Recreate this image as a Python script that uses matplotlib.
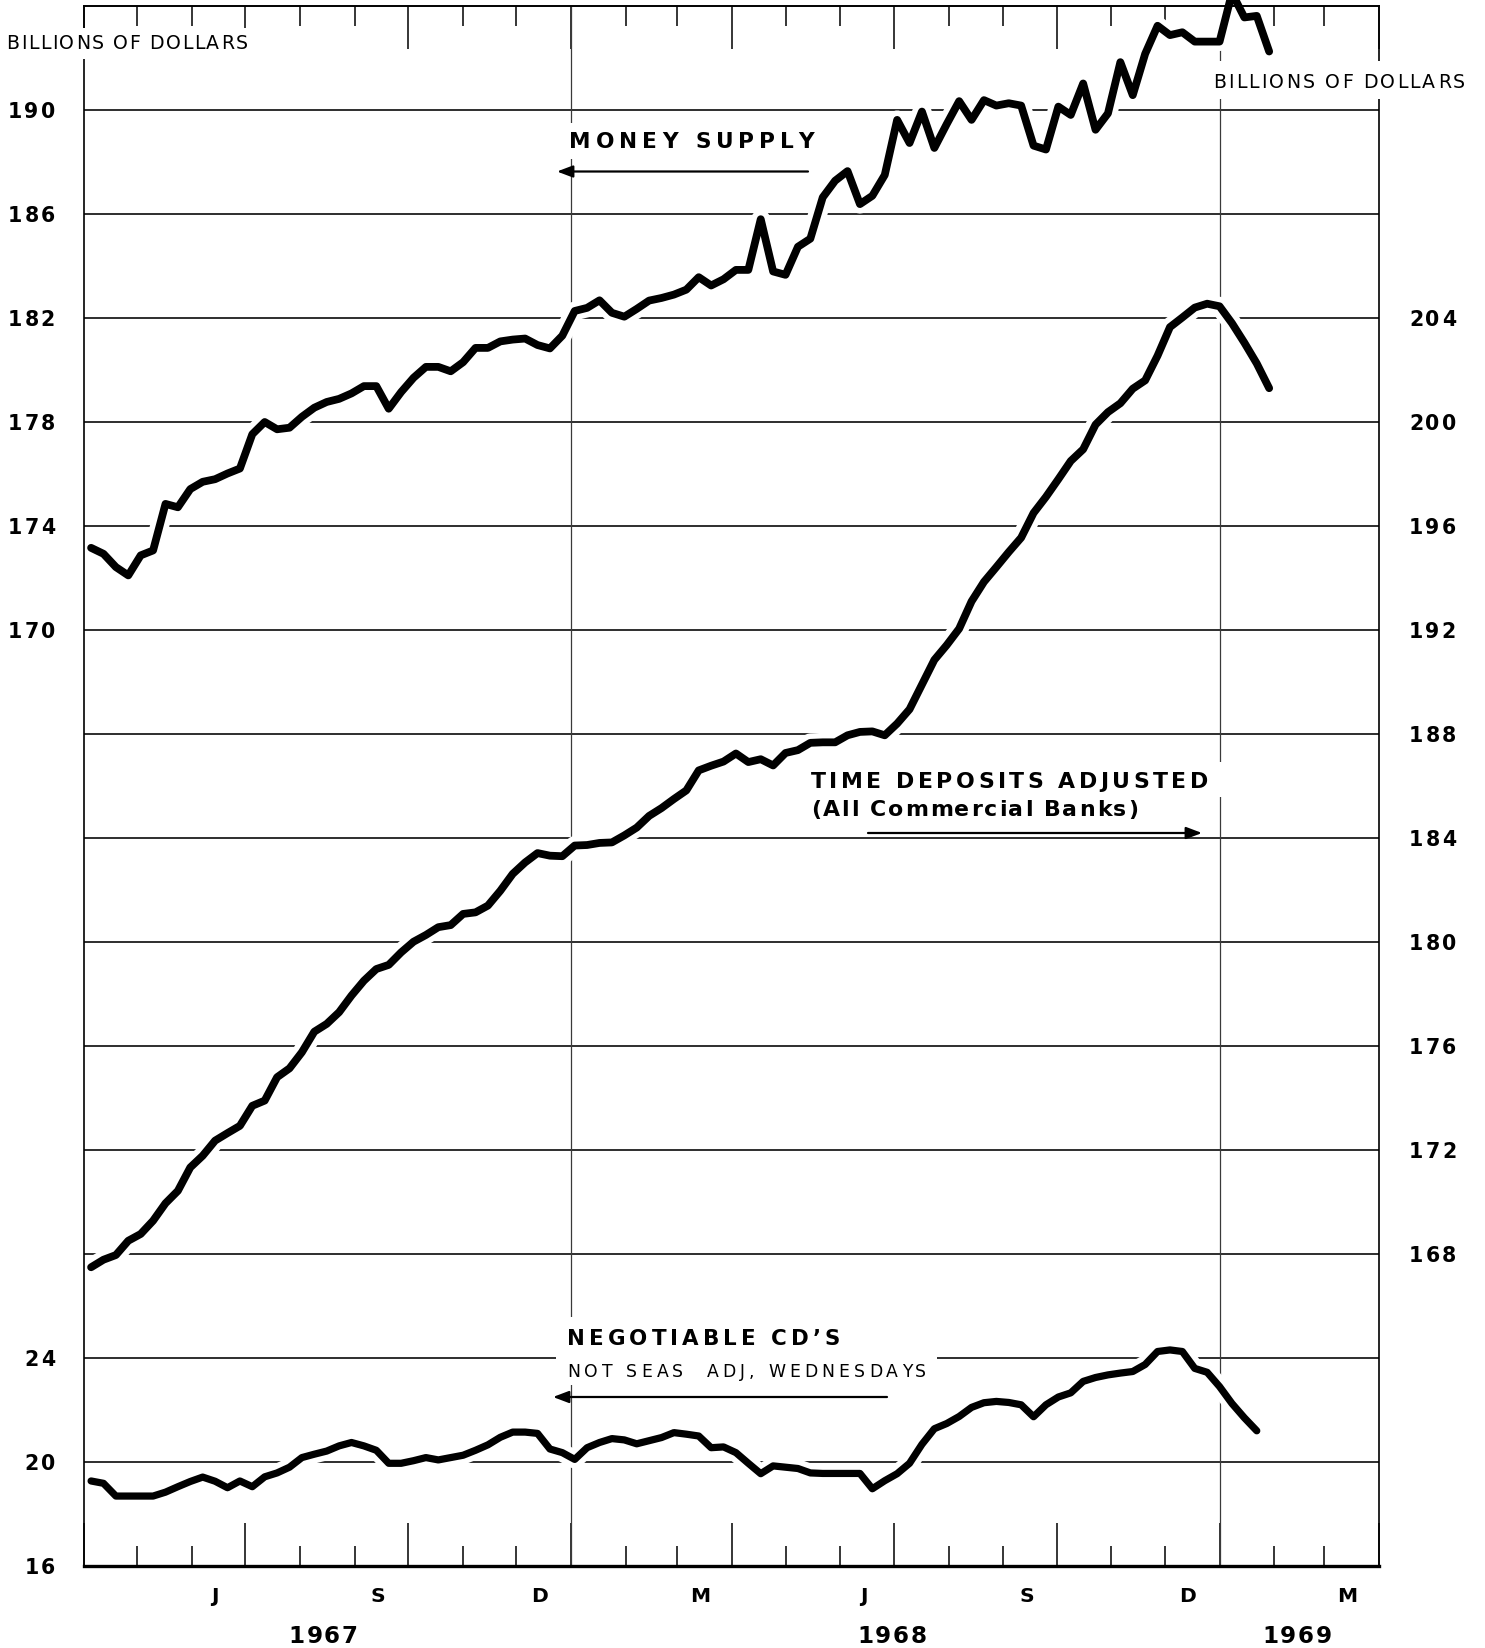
import numpy as np
import pandas as pd
import matplotlib
matplotlib.use("Agg")
import matplotlib.pyplot as plt
import matplotlib.dates as mdates
import matplotlib.patheffects as pe
from matplotlib.transforms import IdentityTransform
from matplotlib.patches import Rectangle, FancyArrowPatch

# ---------------- data (weekly, billions of dollars) ----------------
start_week = "1967-04-05"

money_supply = [
    173.16, 172.93, 172.42, 172.10, 172.87, 173.06, 174.85, 174.72, 175.42, 175.70,
    175.80, 176.02, 176.21, 177.53, 178.00, 177.72, 177.78, 178.20, 178.55, 178.77,
    178.89, 179.10, 179.38, 179.38, 178.51, 179.15, 179.70, 180.12, 180.12, 179.95,
    180.30, 180.85, 180.85, 181.10, 181.17, 181.21, 180.96, 180.83, 181.32, 182.27,
    182.39, 182.68, 182.20, 182.05, 182.35, 182.67, 182.77, 182.90, 183.09, 183.57,
    183.25, 183.49, 183.85, 183.85, 185.80, 183.79, 183.66, 184.74, 185.05, 186.64,
    187.28, 187.65, 186.38, 186.70, 187.50, 189.62, 188.73, 189.94, 188.54, 189.46,
    190.34, 189.62, 190.38, 190.17, 190.26, 190.17, 188.63, 188.48, 190.13, 189.81,
    191.02, 189.24, 189.87, 191.84, 190.57, 192.16, 193.24, 192.88, 192.99, 192.63,
    192.63, 192.63, 194.50, 193.56, 193.62, 192.25]

time_deposits = [
    167.49, 167.78, 167.96, 168.51, 168.77, 169.28, 169.95, 170.43, 171.33, 171.78,
    172.36, 172.65, 172.93, 173.70, 173.90, 174.80, 175.14, 175.76, 176.55, 176.85,
    177.30, 177.94, 178.51, 178.96, 179.12, 179.60, 180.01, 180.27, 180.57, 180.65,
    181.08, 181.14, 181.40, 181.97, 182.62, 183.06, 183.42, 183.32, 183.30, 183.71,
    183.73, 183.81, 183.83, 184.10, 184.40, 184.85, 185.15, 185.50, 185.83, 186.60,
    186.78, 186.94, 187.25, 186.92, 187.03, 186.79, 187.27, 187.38, 187.66, 187.68,
    187.68, 187.95, 188.08, 188.10, 187.95, 188.40, 188.95, 189.90, 190.85, 191.42,
    192.05, 193.10, 193.85, 194.42, 195.00, 195.55, 196.50, 197.12, 197.80, 198.50,
    198.95, 199.90, 200.38, 200.72, 201.28, 201.60, 202.55, 203.65, 204.02, 204.40,
    204.55, 204.45, 203.80, 203.05, 202.25, 201.30]

negotiable_cds = [
    19.27, 19.18, 18.69, 18.69, 18.69, 18.69, 18.84, 19.05, 19.25, 19.42,
    19.26, 19.01, 19.27, 19.05, 19.43, 19.58, 19.80, 20.17, 20.30, 20.42,
    20.62, 20.75, 20.62, 20.45, 19.95, 19.95, 20.05, 20.17, 20.08, 20.17,
    20.26, 20.45, 20.66, 20.95, 21.15, 21.15, 21.10, 20.50, 20.36, 20.10,
    20.55, 20.75, 20.90, 20.85, 20.70, 20.82, 20.94, 21.13, 21.07, 21.00,
    20.55, 20.58, 20.36, 19.95, 19.55, 19.85, 19.80, 19.75, 19.58, 19.56,
    19.56, 19.56, 19.56, 18.97, 19.28, 19.55, 19.95, 20.68, 21.28, 21.48,
    21.75, 22.10, 22.28, 22.33, 22.29, 22.20, 21.74, 22.20, 22.50, 22.66,
    23.10, 23.25, 23.35, 23.42, 23.48, 23.75, 24.25, 24.31, 24.25, 23.60,
    23.45, 22.90, 22.25, 21.70, 21.20]

money_ticks = [190, 186, 182, 178, 174, 170]
td_ticks = [204, 200, 196, 192, 188, 184, 180, 176, 172, 168]
cd_ticks = [24, 20, 16]
month_labels = ["J", "S", "D", "M", "J", "S", "D", "M"]
month_label_dates = ["1967-06-14", "1967-09-14", "1967-12-14", "1968-03-14",
                     "1968-06-14", "1968-09-14", "1968-12-14", "1969-03-14"]
year_labels = ["1967", "1968", "1969"]

# ---------------- figure ----------------
W, H = 1485, 1649
FONT = "DejaVu Sans"
fig = plt.figure(figsize=(W / 100, H / 100), dpi=100)
fig.patch.set_facecolor("white")
PL, PR, PT, PB = 84, 1379, 7, 1567          # plot box, pixels from top-left
ax = fig.add_axes([PL / W, 1 - PB / H, (PR - PL) / W, (PB - PT) / H])
ax_td = ax.twinx()
ax_cd = ax.twinx()

xmin, xmax = pd.Timestamp("1967-04-01"), pd.Timestamp("1969-04-01")
ax.set_xlim(xmin, xmax)
ax.set_ylim(134, 194)
ax_td.set_ylim(156, 216)
ax_cd.set_ylim(16, 76)

ax.set_yticks(np.arange(138, 194, 4))
ax.yaxis.grid(True, color="black", lw=1.15)
ax.set_axisbelow(True)
ax.tick_params(axis="y", length=0, labelleft=False, labelright=False)
for a in (ax_td, ax_cd):
    a.set_yticks([])

ax.xaxis.set_major_locator(mdates.MonthLocator(bymonth=[1, 4, 7, 10]))
ax.xaxis.set_minor_locator(mdates.MonthLocator())
ax.tick_params(axis="x", which="both", direction="in", top=True, bottom=True,
               labelbottom=False, labeltop=False, width=1.1, color="black")
ax.tick_params(axis="x", which="major", length=31)
ax.tick_params(axis="x", which="minor", length=14.5)

# frame is drawn by the last (top-most) twin so no line halo can cut it
for s in list(ax.spines.values()) + list(ax_td.spines.values()):
    s.set_visible(False)
for side, lw in (("left", 1.2), ("right", 1.2), ("top", 1.4), ("bottom", 2.4)):
    ax_cd.spines[side].set_visible(True)
    ax_cd.spines[side].set_linewidth(lw)
    ax_cd.spines[side].set_color("black")
    ax_cd.spines[side].set_zorder(6)

for d in ("1968-01-01", "1969-01-01"):
    ax.axvline(pd.Timestamp(d), color="#3a3a3a", lw=0.9, zorder=1)

# ---------------- series ----------------
def weekly(n):
    return pd.date_range(start_week, periods=n, freq="7D")

def halo(lw):
    return [pe.Stroke(linewidth=lw + 8, foreground="white"), pe.Normal()]

ax.plot(weekly(len(money_supply)), money_supply, color="black", lw=5.6,
        solid_joinstyle="round", solid_capstyle="round", path_effects=halo(5.6),
        clip_on=False, zorder=3)
ax_td.plot(weekly(len(time_deposits)), time_deposits, color="black", lw=5.6,
           solid_joinstyle="round", solid_capstyle="round", path_effects=halo(5.6),
           zorder=3)
ax_cd.plot(weekly(len(negotiable_cds)), negotiable_cds, color="black", lw=5.2,
           solid_joinstyle="round", solid_capstyle="round", path_effects=halo(5.2),
           zorder=3)

# ---------------- text helpers (pixel layout) ----------------
REND = fig.canvas.get_renderer()
IDT = IdentityTransform()

def tw(s, size, weight):
    t = fig.text(0, 0, s, fontsize=size, fontweight=weight, family=FONT)
    w = t.get_window_extent(renderer=REND).width
    t.remove()
    return w

def spaced(s, yc, size, weight="bold", x0=None, x1=None, track=None, ha="left"):
    cap = 0.729 * size * 100 / 72
    base = H - (yc + cap / 2)
    bar = tw("|", size, weight)
    offs = [0.0] + [tw(s[:i] + "|", size, weight) - bar for i in range(1, len(s))]
    nat = tw(s, size, weight)
    n = len(s)
    if track is None:
        track = ((x1 - x0) - nat) / max(n - 1, 1)
    total = nat + track * (n - 1)
    if ha == "left":
        st = x0
    elif ha == "right":
        st = x1 - total
    else:
        st = x0 - total / 2
    for i, ch in enumerate(s):
        if ch == " ":
            continue
        fig.text(st + offs[i] + track * i, base, ch, transform=IDT, fontsize=size,
                 fontweight=weight, family=FONT, va="baseline", ha="left",
                 color="black", zorder=5)
    return track

def erase(x0, y0, x1, y1):
    fig.add_artist(Rectangle((x0, H - y1), x1 - x0, y1 - y0, transform=IDT,
                             facecolor="white", edgecolor="none", zorder=1))

def arrow(xa, xb, y):
    fig.add_artist(FancyArrowPatch((xa, H - y), (xb, H - y), transform=IDT,
                                   arrowstyle="-|>,head_length=9.5,head_width=3.6",
                                   mutation_scale=1, lw=1.6, color="black",
                                   shrinkA=0, shrinkB=0, zorder=4))

def ypix(axis, v):
    return H - axis.transData.transform((mdates.date2num(xmin), v))[1]

def xpix(d):
    return ax.transData.transform((mdates.date2num(pd.Timestamp(d)), 0))[0]

# white-outs behind labels (gaps in rules, as in the original)
erase(0, 29, 252, 60)
erase(1205, 62, 1472, 100)
erase(558, 124, 818, 160)
erase(805, 763, 1224, 798)
erase(805, 797, 1145, 822)
erase(556, 1318, 937, 1386)

# axis unit labels
spaced("BILLIONS OF DOLLARS", 42.5, 13.6, "normal", x0=6, x1=248)
spaced("BILLIONS OF DOLLARS", 81, 13.6, "normal", x0=1213, x1=1465)

# numeric scale labels
NUM = 14.8
trk = spaced(str(money_ticks[0]), ypix(ax, money_ticks[0]), NUM, "bold", x0=8, x1=55)
for v in money_ticks[1:]:
    spaced(str(v), ypix(ax, v), NUM, "bold", x1=55, track=trk, ha="right")
for v in cd_ticks:
    spaced(str(v), ypix(ax_cd, v), NUM, "bold", x1=55, track=trk, ha="right")
for v in td_ticks:
    spaced(str(v), ypix(ax_td, v), NUM, "bold", x0=1409, track=trk, ha="left")

# series captions and arrows
spaced("MONEY SUPPLY", 140, 15.6, "bold", x0=569, x1=811)
arrow(808, 557, 172.5)
spaced("TIME DEPOSITS ADJUSTED", 780, 15.8, "bold", x0=811, x1=1208)
spaced("(All Commercial Banks)", 808, 15.8, "bold", x0=811, x1=1138)
arrow(868, 1202, 834)
spaced("NEGOTIABLE CD\u2019S", 1337, 15.4, "bold", x0=567, x1=840)
spaced("NOT SEAS  ADJ, WEDNESDAYS", 1371, 12.4, "normal", x0=567, x1=926)
arrow(887, 553, 1398)

# month and year labels
for lab, d in zip(month_labels, month_label_dates):
    spaced(lab, 1595, 14.6, "bold", x0=xpix(d), track=0, ha="center")
for lab, xc in zip(year_labels, (323, 892, 1297)):
    spaced(lab, 1635, 16.6, "bold", x0=xc, track=1.5, ha="center")

fig.savefig("out.png", dpi=100, facecolor="white")
